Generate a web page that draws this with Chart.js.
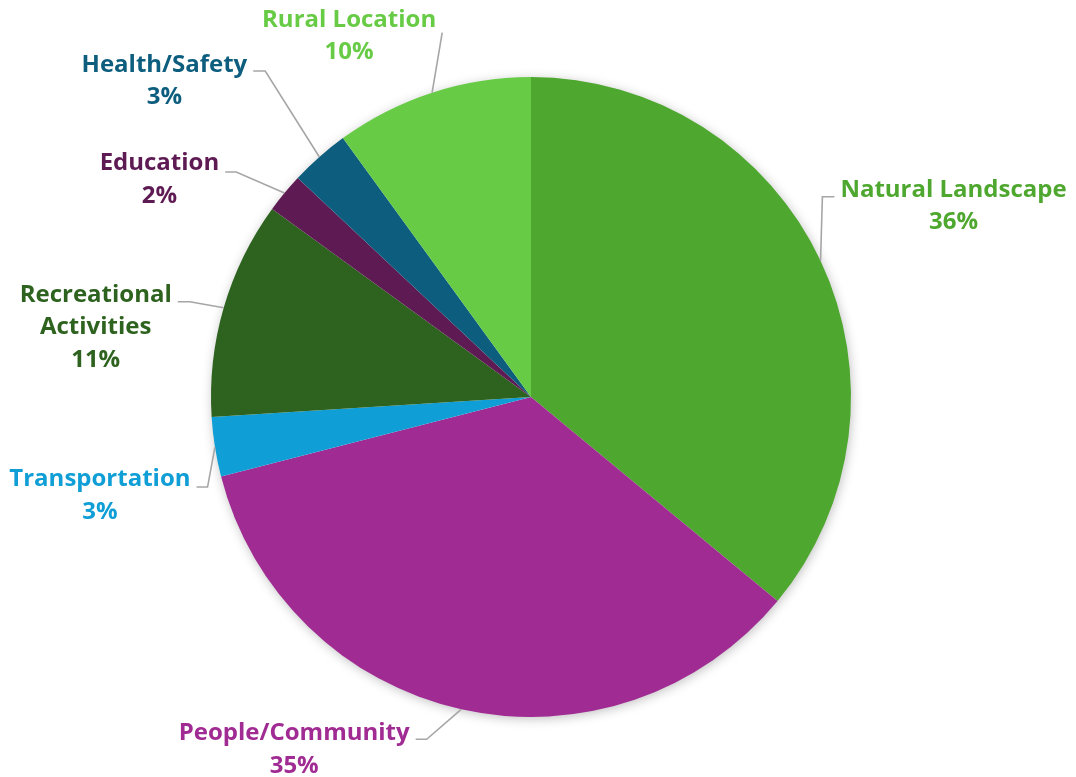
<!DOCTYPE html>
<html>
<head>
<meta charset="utf-8">
<title>Pie chart</title>
<script src="https://cdn.jsdelivr.net/npm/chart.js@4/dist/chart.umd.min.js"></script>
<style>
  html, body { margin: 0; padding: 0; background: #ffffff; }
  #wrap { width: 1076px; height: 777px; }
</style>
</head>
<body>
<div id="wrap"><canvas id="chart" width="1076" height="777"></canvas></div>
<script>
// Categories and their shares (percent), clockwise from 12 o'clock
const categories = [
  'Natural Landscape',
  'People/Community',
  'Transportation',
  'Recreational Activities',
  'Education',
  'Health/Safety',
  'Rural Location'
];
const shares = [36, 35, 3, 11, 2, 3, 10];

// Label text lines for each slice (name may wrap onto two lines)
const labelLines = [
  ['Natural Landscape'],
  ['People/Community'],
  ['Transportation'],
  ['Recreational', 'Activities'],
  ['Education'],
  ['Health/Safety'],
  ['Rural Location']
];

// Slice / label colours
const sliceColors = ['#4EA72E', '#A02B93', '#0F9ED5', '#2E621F', '#5E1B53', '#0D5E7E', '#68CB45'];

// Label placement relative to the slice's anchor point on the rim:
// dx/dy = first-line baseline centre offset, side = which side of the text the leader attaches.
const labelPlacement = [
  { dx: 133, dy: -64, side: 'left',  stub: 12, elbowDy: 0 },
  { dx: -167, dy: 31, side: 'right', stub: 11, elbowDy: -1 },
  { dx: -115, dy: 39, side: 'right', stub: 11, elbowDy: 1 },
  { dx: -128, dy: -6, side: 'right', stub: 12, elbowDy: 0 },
  { dx: -125, dy: -23, side: 'right', stub: 11, elbowDy: 2 },
  { dx: -155, dy: -85, side: 'right', stub: 12, elbowDy: -1 },
  { dx: -83,  dy: -66, side: 'right', stub: 0,  elbowDy: 6 }
];

const FONT = 'bold 24px "Open Sans", sans-serif';
const LINE_H = 32.5;

// Soft shadow under the whole pie
const pieShadow = {
  id: 'pieShadow',
  beforeDatasetsDraw(chart) {
    const meta = chart.getDatasetMeta(0);
    const arc = meta.data[0];
    if (!arc) return;
    const ctx = chart.ctx;
    ctx.save();
    ctx.shadowColor = 'rgba(0,0,0,0.28)';
    ctx.shadowBlur = 12;
    ctx.shadowOffsetX = 1;
    ctx.shadowOffsetY = 2;
    ctx.fillStyle = '#ffffff';
    ctx.beginPath();
    ctx.arc(arc.x, arc.y, arc.outerRadius - 1, 0, Math.PI * 2);
    ctx.fill();
    ctx.restore();
  }
};

// Outside labels with elbow leader lines
const outsideLabels = {
  id: 'outsideLabels',
  afterDatasetsDraw(chart) {
    const ctx = chart.ctx;
    const meta = chart.getDatasetMeta(0);
    const total = shares.reduce((a, b) => a + b, 0);
    ctx.save();
    ctx.font = FONT;
    meta.data.forEach((arc, i) => {
      const mid = (arc.startAngle + arc.endAngle) / 2;
      const ax = arc.x + Math.cos(mid) * arc.outerRadius;
      const ay = arc.y + Math.sin(mid) * arc.outerRadius;
      const p = labelPlacement[i];
      const cx = ax + p.dx;
      const by = ay + p.dy;
      const pct = Math.round(shares[i] / total * 100) + '%';
      const lines = labelLines[i].concat([pct]);

      // leader line: short horizontal stub beside the first line, then to the rim
      const ey = by + p.elbowDy;
      const half = ctx.measureText(lines[0]).width / 2;
      let sx, ex;
      if (p.side === 'right') {
        sx = cx + half + 6;
        ex = sx + p.stub;
      } else {
        sx = cx - half - 6;
        ex = sx - p.stub;
      }
      ctx.strokeStyle = '#A6A6A6';
      ctx.lineWidth = 1.6;
      ctx.beginPath();
      ctx.moveTo(sx, ey);
      ctx.lineTo(ex, ey);
      ctx.lineTo(ax, ay);
      ctx.stroke();

      // text
      ctx.fillStyle = sliceColors[i];
      ctx.textAlign = 'center';
      ctx.textBaseline = 'alphabetic';
      lines.forEach((t, k) => ctx.fillText(t, cx, by + k * LINE_H));
    });
    ctx.restore();
  }
};

new Chart(document.getElementById('chart'), {
  type: 'pie',
  data: {
    labels: categories,
    datasets: [{
      data: shares,
      backgroundColor: sliceColors,
      borderWidth: 0,
      hoverOffset: 0,
      radius: 320
    }]
  },
  options: {
    responsive: false,
    devicePixelRatio: 1,
    animation: false,
    layout: { padding: { left: 181, right: 195, top: 77, bottom: 60 } },
    plugins: {
      legend: { display: false },
      tooltip: { enabled: false }
    }
  },
  plugins: [pieShadow, outsideLabels]
});
</script>
</body>
</html>
